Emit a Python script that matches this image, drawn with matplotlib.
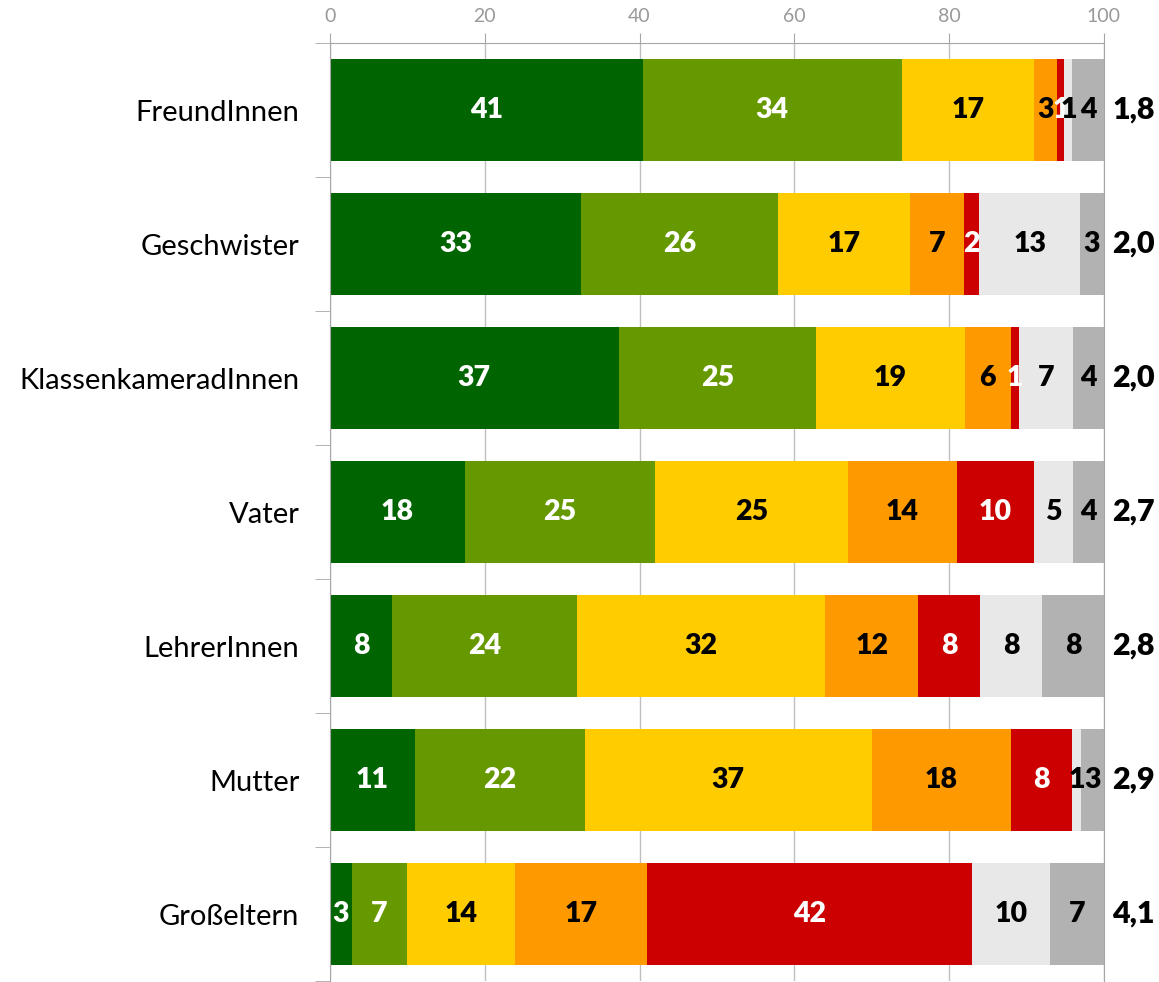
import matplotlib
matplotlib.use('Agg')
import matplotlib.pyplot as plt
import numpy as np

plt.rcParams['font.family'] = ['Lato', 'DejaVu Sans']

# Data: share of answers per person (percent), left to right
categories = ['FreundInnen', 'Geschwister', 'KlassenkameradInnen', 'Vater',
              'LehrerInnen', 'Mutter', 'Großeltern']
s1 = [40.4, 32.4, 37.3, 17.4, 8.0, 11.0, 2.8]
s2 = [33.5, 25.5, 25.5, 24.6, 23.9, 21.9, 7.1]
s3 = [17.0, 17.0, 19.2, 24.9, 32.1, 37.1, 14.0]
s4 = [3.0, 7.0, 6.0, 14.1, 12.0, 18.0, 17.1]
s5 = [1.0, 2.0, 1.0, 10.0, 8.0, 7.9, 41.9]
s6 = [1.0, 13.0, 7.0, 5.0, 8.0, 1.1, 10.1]
s7 = [4.1, 3.1, 4.0, 4.0, 8.0, 3.0, 7.0]

# rounded labels as printed in the chart
l1 = [41, 33, 37, 18, 8, 11, 3]
l2 = [34, 26, 25, 25, 24, 22, 7]
l3 = [17, 17, 19, 25, 32, 37, 14]
l4 = [3, 7, 6, 14, 12, 18, 17]
l5 = [1, 2, 1, 10, 8, 8, 42]
l6 = [1, 13, 7, 5, 8, 1, 10]
l7 = [4, 3, 4, 4, 8, 3, 7]

means = ['1,8', '2,0', '2,0', '2,7', '2,8', '2,9', '4,1']

series = [s1, s2, s3, s4, s5, s6, s7]
labels = [l1, l2, l3, l4, l5, l6, l7]
colors = ['#006400', '#669900', '#FFCC00', '#FF9900', '#CC0000', '#E8E8E8', '#B2B2B2']
text_colors = ['white', 'white', 'black', 'black', 'white', 'black', 'black']

fig = plt.figure(figsize=(11.59, 9.82), dpi=100)
ax = fig.add_axes([0.2847, 0.001, 0.6678, 0.9552])

y = np.arange(len(categories))
left = np.zeros(len(categories))
for vals, labs, col, tcol in zip(series, labels, colors, text_colors):
    vals = np.array(vals)
    ax.barh(y, vals, left=left, height=0.76, color=col, zorder=2)
    for i in range(len(categories)):
        ax.text(left[i] + vals[i] / 2, y[i], str(labs[i]), ha='center', va='center',
                color=tcol, fontsize=20.5, fontweight='heavy', zorder=3)
    left = left + vals

for i, m in enumerate(means):
    ax.text(101.1, y[i], m, ha='left', va='center', fontsize=22,
            fontweight='heavy', clip_on=False)

ax.set_xlim(0, 100)
ax.set_ylim(len(categories) - 0.5, -0.5)
ax.xaxis.tick_top()
ax.set_xticks([0, 20, 40, 60, 80, 100])
ax.tick_params(axis='x', colors='#A6A6A6', labelcolor='#999999', labelsize=14,
               length=7, pad=6)
ax.grid(axis='x', color='#BFBFBF', linewidth=1, zorder=0)

ax.set_yticks(y)
ax.set_yticklabels(categories, fontsize=21)
ax.tick_params(axis='y', length=0, pad=22)
ax.set_yticks(np.arange(-0.5, len(categories), 1), minor=True)
ax.tick_params(axis='y', which='minor', length=11, color='#A6A6A6')

for side in ['top', 'left', 'right']:
    ax.spines[side].set_color('#A6A6A6')
ax.spines['bottom'].set_visible(False)

fig.savefig('out.png', dpi=100)
